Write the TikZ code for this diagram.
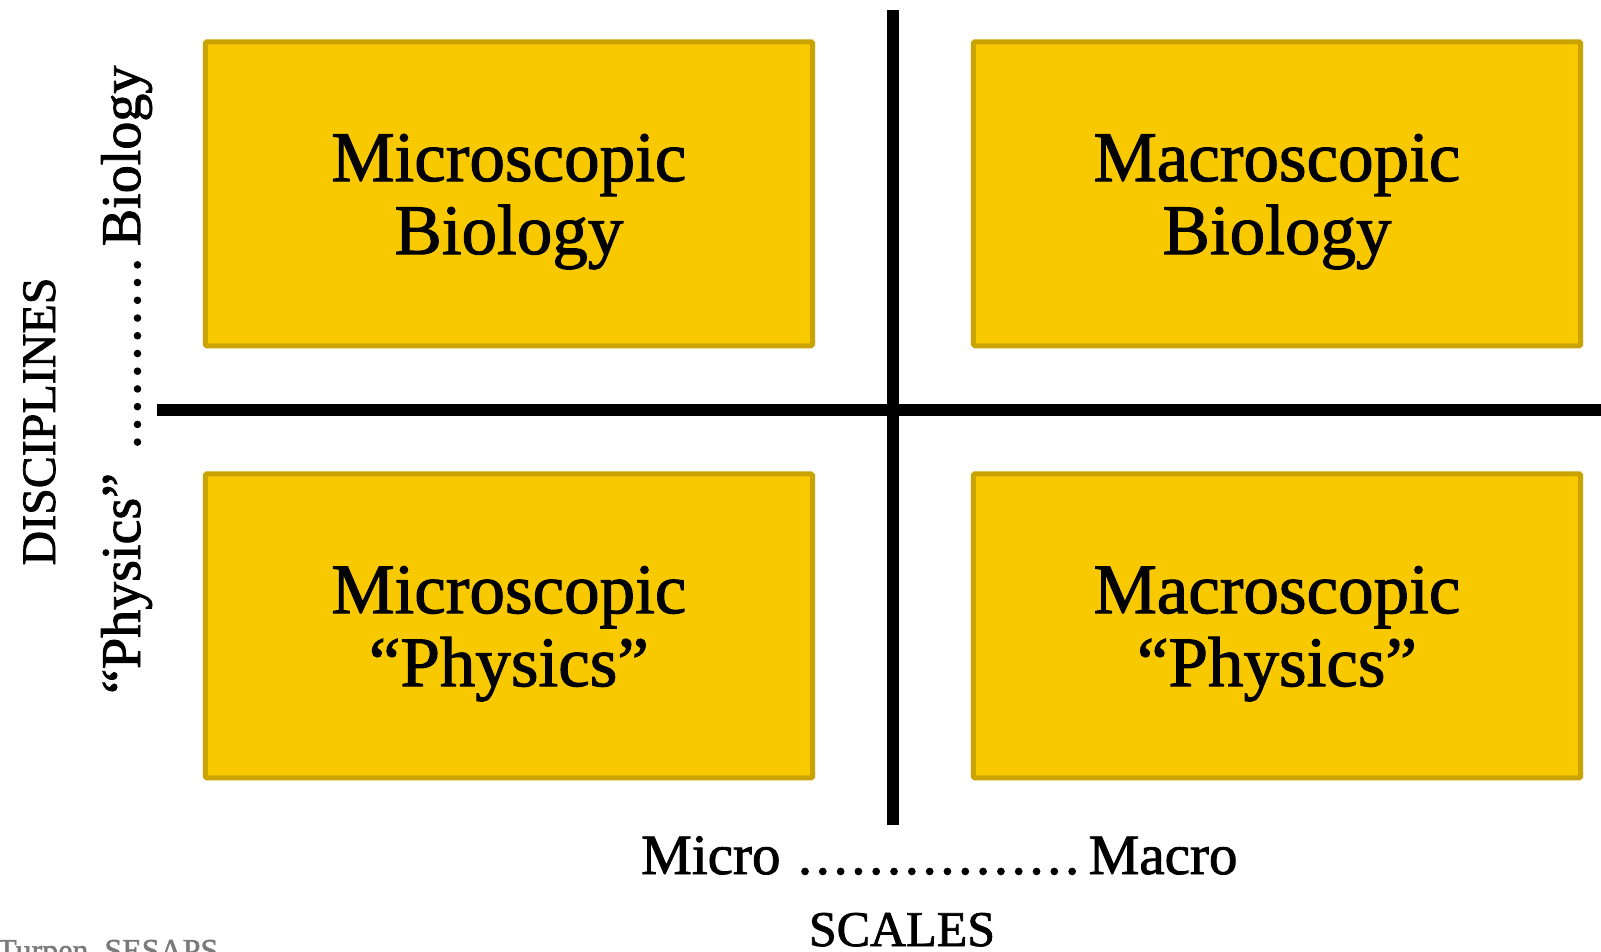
\documentclass[tikz,border=0pt]{standalone}
\usepackage{fontspec}
\setmainfont[RawFeature={embolden=1.5}]{Liberation Serif}
\definecolor{boxfill}{HTML}{F9C900}
\definecolor{boxline}{HTML}{C9A300}
\definecolor{notegray}{HTML}{7A7A7A}
\newcommand\myleaderdots[2]{\hbox to #1{\xleaders\hbox to #2{\hss.\hss}\hfill}}
\begin{document}
\begin{tikzpicture}[x=1pt,y=-1pt,
  qbox/.style={draw=boxline, fill=boxfill, line width=5pt, rounded corners=1.5pt,
    minimum width=607.3pt, minimum height=304pt, inner sep=0pt},
  qtext/.style={font=\fontsize{71}{85}\selectfont, inner sep=0pt, anchor=base},
  axisline/.style={line width=12.5pt, line cap=butt},
  sidelabel/.style={inner sep=0pt}]
\useasboundingbox (0,0) rectangle (1601,951);
% quadrant boxes
\node[qbox] (tl) at (508.9,193.8) {};
\node[qbox] (tr) at (1277,193.8) {};
\node[qbox] (bl) at (508.9,625.9) {};
\node[qbox] (br) at (1277,625.9) {};
% box texts
\node[qtext] (tla) at ([yshift=12.8pt]tl.center) {Microscopic};
\node[qtext] (tlb) at ([yshift=-60.2pt]tl.center) {Biology};
\node[qtext] (tra) at ([yshift=12.8pt]tr.center) {Macroscopic};
\node[qtext] (trb) at ([yshift=-60.2pt]tr.center) {Biology};
\node[qtext] (bla) at ([yshift=12.8pt]bl.center) {Microscopic};
\node[qtext] (blb) at ([yshift=-60.2pt]bl.center) {“Physics”};
\node[qtext] (bra) at ([yshift=12.8pt]br.center) {Macroscopic};
\node[qtext] (brb) at ([yshift=-60.2pt]br.center) {“Physics”};
% axes
\coordinate (vtop) at (893,10);
\coordinate (vbot) at (893,825);
\coordinate (hleft) at (156.7,410);
\coordinate (hright) at (1610,410);
\draw[axisline] (vtop) -- (vbot);
\draw[axisline] (hleft) -- (hright);
% left labels
\node[sidelabel, rotate=90, anchor=base, font=\fontsize{48}{58}\selectfont] (disc) at (55,421.5) {DISCIPLINES};
\node[sidelabel, rotate=90, anchor=base west, font=\fontsize{56}{67}\selectfont] (disciplinerange) at (140,694)
  {“Physics”\hspace{22pt}\myleaderdots{195pt}{17.7pt}\hspace{9.8pt}Biology};
% bottom labels
\node[sidelabel, anchor=base west, font=\fontsize{57}{68}\selectfont] (scalerange) at (641,874)
  {Micro\hspace{15.6pt}\myleaderdots{285pt}{17.8pt}\hspace{7.6pt}Macro};
\node[sidelabel, anchor=base, font=\fontsize{50}{60}\selectfont] (scales) at (902,946) {SCALES};
\node[sidelabel, anchor=base west, text=notegray, font=\fontsize{32}{38}\selectfont] (credit) at (-3,961) {Turpen, SESAPS};
\end{tikzpicture}
\end{document}
